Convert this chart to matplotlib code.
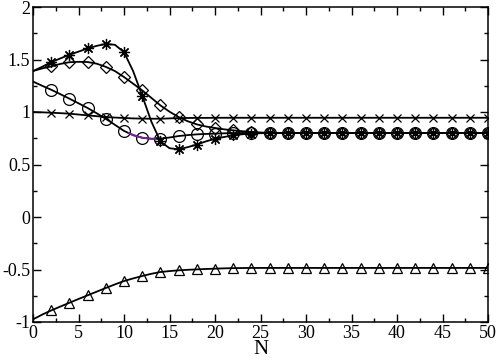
import numpy as np
import matplotlib
matplotlib.use("Agg")
import matplotlib.pyplot as plt
from matplotlib.ticker import MultipleLocator

# x positions 0..50 (integers); markers on even N from 2
N = list(range(0, 51))

star = [1.39, 1.43, 1.475, 1.51, 1.545, 1.575, 1.605, 1.63, 1.648, 1.64, 1.57, 1.39, 1.155, 0.91,
        0.72, 0.655, 0.645, 0.665, 0.69, 0.72, 0.745, 0.762, 0.777, 0.788, 0.795, 0.798] + [0.80] * 25
diamond = [1.39, 1.415, 1.434, 1.458, 1.474, 1.478, 1.476, 1.46, 1.43, 1.39, 1.333, 1.27, 1.206, 1.135,
           1.063, 1.003, 0.952, 0.912, 0.882, 0.862, 0.848, 0.835, 0.825, 0.817, 0.81, 0.805] + [0.80] * 25
circle = [1.29, 1.25, 1.212, 1.17, 1.127, 1.083, 1.038, 0.988, 0.935, 0.878, 0.82, 0.78, 0.755, 0.745,
          0.746, 0.757, 0.771, 0.78, 0.787, 0.791, 0.794, 0.797, 0.799, 0.80, 0.80, 0.80] + [0.80] * 25
cross = [1.0, 0.997, 0.993, 0.989, 0.984, 0.976, 0.968, 0.96, 0.952, 0.947, 0.943, 0.939, 0.937, 0.936,
         0.936, 0.939, 0.942, 0.943, 0.944, 0.944, 0.945] + [0.945] * 30
triangle = [-0.975, -0.93, -0.89, -0.853, -0.817, -0.781, -0.746, -0.711, -0.676, -0.642, -0.61, -0.585,
            -0.562, -0.541, -0.524, -0.515, -0.508, -0.503, -0.499, -0.495, -0.492, -0.489, -0.487,
            -0.486, -0.485] + [-0.485] * 26
purple_x = [10.5, 11, 12, 13, 13.5]
purple_y = [0.80, 0.78, 0.755, 0.745, 0.745]

plt.rcParams['font.family'] = ['Liberation Serif', 'DejaVu Serif']
fig = plt.figure(figsize=(4.98, 3.64), dpi=100)
ax = fig.add_axes([33 / 498, 42 / 364, 455 / 498, 315 / 364])

mk = dict(color='black', lw=1.3, markevery=list(range(2, 51, 2)), markerfacecolor='none',
          markeredgecolor='black', markeredgewidth=0.9)
ax.plot(N, cross, marker='x', markersize=6, **mk)
ax.plot(N, triangle, marker='^', markersize=7.5, **mk)
ax.plot(N, diamond, marker='D', markersize=6, **mk)
ax.plot(N, circle, marker='o', markersize=8.5, **mk)
ax.plot(purple_x, purple_y, color='#7a1fa0', lw=1.3)
ax.plot(N, star, marker=(8, 2, 0), markersize=8, **mk)

ax.set_xlim(0, 50)
ax.set_ylim(-1, 2)
ax.xaxis.set_major_locator(MultipleLocator(5))
ax.xaxis.set_minor_locator(MultipleLocator(2.5))
ax.yaxis.set_major_locator(MultipleLocator(0.5))
ax.yaxis.set_minor_locator(MultipleLocator(0.25))
ax.tick_params(which='both', direction='in', top=True, right=True, labelsize=13, width=1.0)
ax.tick_params(axis='x', pad=2)
ax.tick_params(axis='y', pad=2)
ax.tick_params(which='major', length=6)
ax.tick_params(which='minor', length=3)
ax.set_yticks([-1, -0.5, 0, 0.5, 1, 1.5, 2])
ax.set_yticklabels(['-1', '-0.5', '0', '0.5', '1', '1.5', '2'])
for s in ax.spines.values():
    s.set_linewidth(1.1)
ax.set_xlabel('N', fontsize=15, labelpad=-1)

fig.savefig('out.png', dpi=100)
